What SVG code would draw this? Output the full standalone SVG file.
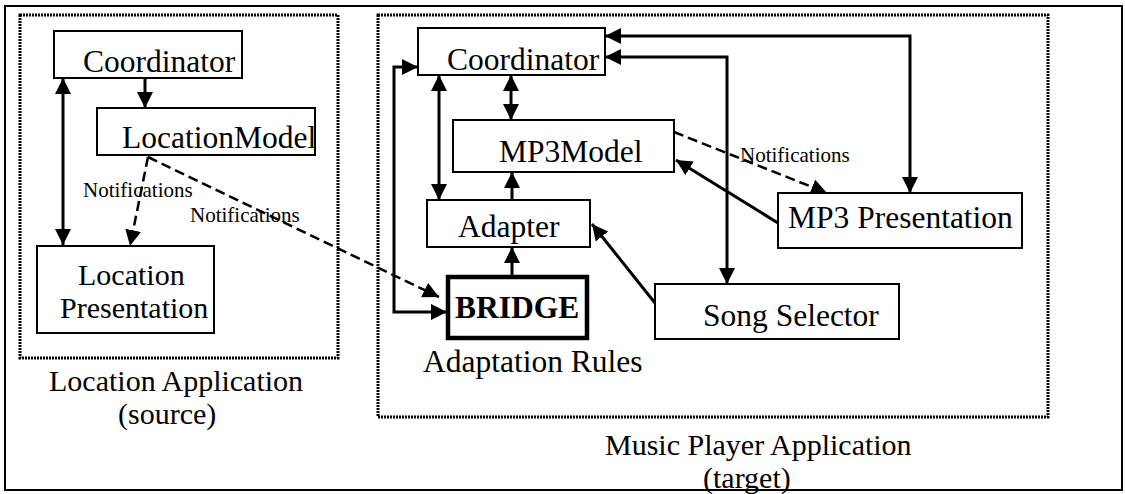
<svg xmlns="http://www.w3.org/2000/svg" width="1125" height="494" viewBox="0 0 1125 494">
  <style>
    .frame { fill: none; stroke: #000; stroke-width: 2; }
    .app { fill: none; stroke: #000; stroke-width: 3; stroke-dasharray: 2 1; }
    .box { fill: #fff; stroke: #000; stroke-width: 2; }
    .bold-box { fill: #fff; stroke: #000; stroke-width: 4.5; }
    .lbl { font-family: "Liberation Serif", "Times New Roman", serif; font-size: 31.5px; fill: #000; }
    .lbl2 { font-family: "Liberation Serif", "Times New Roman", serif; font-size: 30px; fill: #000; }
    .bold { font-weight: bold; }
    .note { font-family: "Liberation Serif", "Times New Roman", serif; font-size: 21px; fill: #000; }
    .link { fill: none; stroke: #000; stroke-width: 3; }
    .dash { fill: none; stroke: #000; stroke-width: 2.5; stroke-dasharray: 10 5; }
    .end { marker-end: url(#arrow); }
    .both { marker-start: url(#arrow); marker-end: url(#arrow); }
  </style>
  <defs>
    <marker id="arrow" markerUnits="userSpaceOnUse" markerWidth="16" markerHeight="16" refX="16" refY="8" orient="auto-start-reverse">
      <path d="M0,0 L16,8 L0,16 z" fill="#000"/>
    </marker>
  </defs>

  <!-- outer frame -->
  <rect class="frame" x="5" y="6" width="1117" height="484"/>

  <!-- application boundaries -->
  <g id="location-app">
    <rect class="app" x="20" y="15" width="318" height="343"/>
    <text class="lbl2" x="49" y="391">Location Application</text>
    <text class="lbl2" x="118" y="424">(source)</text>
  </g>
  <g id="music-app">
    <rect class="app" x="378" y="15" width="670" height="402"/>
    <text class="lbl2" x="605" y="455">Music Player Application</text>
    <text class="lbl2" x="703" y="488">(target)</text>
  </g>

  <!-- connectors -->
  <g id="connectors">
    <line class="link end" x1="145" y1="78" x2="145" y2="108"/>
    <line class="link both" x1="63" y1="78" x2="63" y2="245"/>
    <line class="dash end" x1="148" y1="157" x2="130" y2="246"/>
    <line class="dash end" x1="148" y1="157" x2="439" y2="297"/>

    <path class="link both" d="M605,36 H910 V193"/>
    <path class="link both" d="M605,57 H727 V284"/>
    <line class="link both" x1="511" y1="75" x2="511" y2="120"/>
    <line class="link both" x1="439" y1="75" x2="439" y2="200"/>
    <line class="link end" x1="512" y1="200" x2="512" y2="172"/>
    <line class="link end" x1="512" y1="276" x2="512" y2="247"/>
    <path class="link both" d="M447,312 H394 V67 H418"/>
    <line class="link end" x1="655" y1="303" x2="592" y2="224"/>
    <line class="link end" x1="778" y1="223" x2="676" y2="160"/>
    <line class="dash end" x1="674" y1="132" x2="827" y2="193"/>

    <text class="note" x="83" y="197">Notifications</text>
    <text class="note" x="190" y="222">Notifications</text>
    <text class="note" x="740" y="162">Notifications</text>
  </g>

  <!-- location application nodes -->
  <g id="loc-coordinator">
    <rect class="box" x="54" y="31" width="188" height="47"/>
    <text class="lbl" x="83" y="72">Coordinator</text>
  </g>
  <g id="location-model">
    <rect class="box" x="97" y="108" width="218" height="47"/>
    <text class="lbl" x="122" y="148">LocationModel</text>
  </g>
  <g id="location-presentation">
    <rect class="box" x="37" y="246" width="177" height="87"/>
    <text class="lbl2" x="78" y="285">Location</text>
    <text class="lbl2" x="60" y="318">Presentation</text>
  </g>

  <!-- music player nodes -->
  <g id="mp-coordinator">
    <rect class="box" x="418" y="28" width="187" height="47"/>
    <text class="lbl" x="447" y="70">Coordinator</text>
  </g>
  <g id="mp3-model">
    <rect class="box" x="453" y="120" width="221" height="52"/>
    <text class="lbl" x="499" y="162">MP3Model</text>
  </g>
  <g id="adapter">
    <rect class="box" x="427" y="200" width="163" height="47"/>
    <text class="lbl" x="458" y="237">Adapter</text>
  </g>
  <g id="bridge">
    <rect class="bold-box" x="448" y="277" width="139" height="61"/>
    <text class="lbl bold" x="455" y="318">BRIDGE</text>
    <text class="lbl" x="423" y="372">Adaptation Rules</text>
  </g>
  <g id="song-selector">
    <rect class="box" x="655" y="284" width="244" height="55"/>
    <text class="lbl" x="703" y="326">Song Selector</text>
  </g>
  <g id="mp3-presentation">
    <rect class="box" x="778" y="193" width="244" height="55"/>
    <text class="lbl" x="788" y="228">MP3 Presentation</text>
  </g>
</svg>
